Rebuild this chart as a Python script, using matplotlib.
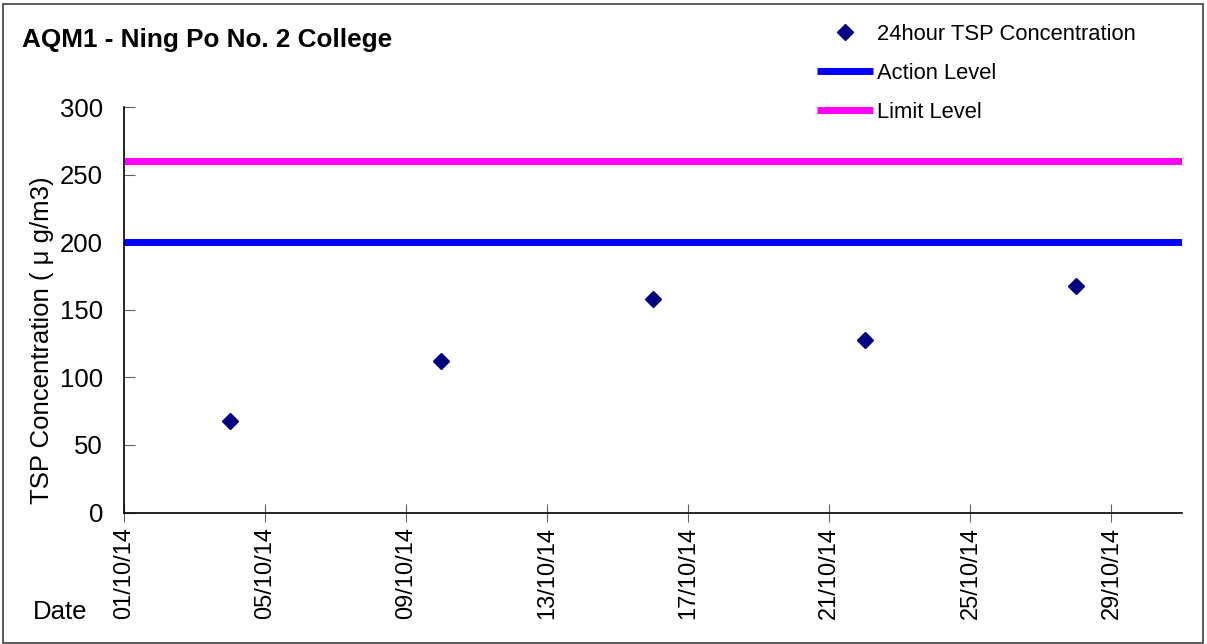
import matplotlib
matplotlib.use("Agg")
import matplotlib.pyplot as plt
import matplotlib.dates as mdates
from matplotlib.patches import Rectangle
import pandas as pd

plt.rcParams["font.family"] = ["Liberation Sans", "DejaVu Sans"]

# ------------------------------------------------------------
# Daten
# ------------------------------------------------------------
dates = pd.to_datetime(["2014-10-04", "2014-10-10", "2014-10-16",
                        "2014-10-22", "2014-10-28"])
tsp = [68, 112, 158, 128, 168]

x_start = pd.Timestamp("2014-10-01")
x_end = pd.Timestamp("2014-10-31")
tick_dates = pd.date_range("2014-10-01", "2014-10-29", freq="4D")

action_level = 200
limit_level = 260

# ------------------------------------------------------------
# Plot
# ------------------------------------------------------------
fig = plt.figure(figsize=(12.07, 6.44), dpi=100)
ax = fig.add_axes([124 / 1207, 1 - 512.5 / 644, (1182 - 124) / 1207, (512.5 - 107.3) / 644])

ax.plot(dates, tsp, linestyle="none", marker="D", markersize=8,
        color="#000080", label="24hour TSP Concentration", zorder=3)
ax.plot([x_start, x_end], [action_level, action_level], color="#0000ff",
        linewidth=5, solid_capstyle="butt", label="Action Level")
ax.plot([x_start, x_end], [limit_level, limit_level], color="#ff00ff",
        linewidth=5, solid_capstyle="butt", label="Limit Level")

ax.set_xlim(x_start, x_end)
ax.set_ylim(0, 300)
ax.set_yticks(range(0, 301, 50))
ax.set_xticks(tick_dates)
ax.xaxis.set_major_formatter(mdates.DateFormatter("%d/%m/%y"))
for lbl in ax.get_xticklabels():
    lbl.set_rotation(90)

ax.tick_params(axis="y", direction="in", length=8, color="#606060",
               labelsize=18.5, pad=15)
ax.tick_params(axis="x", direction="inout", length=13, color="#606060",
               labelsize=17, pad=4)
ax.spines["top"].set_visible(False)
ax.spines["right"].set_visible(False)
ax.spines["left"].set_linewidth(1.2)
ax.spines["bottom"].set_linewidth(1.2)

fig.text(22 / 1207, 1 - 40 / 644, "AQM1 - Ning Po No. 2 College",
         fontsize=18.8, fontweight="bold", va="center", ha="left")
fig.text(42 / 1207, 1 - 340 / 644, "TSP Concentration ( μ g/m3)",
         fontsize=18.5, rotation=90, va="center", ha="center")
fig.text(33 / 1207, 1 - 612 / 644, "Date", fontsize=18.5, va="center", ha="left")

ax.legend(loc="upper left", bbox_to_anchor=(817 / 1207, 1 - 24 / 644),
          bbox_transform=fig.transFigure, frameon=False, fontsize=15.8,
          handlelength=2.55, handletextpad=0.2, labelspacing=0.82,
          borderaxespad=0, borderpad=0)

fig.patches.append(Rectangle((3 / 1207, 1 / 644), 1200 / 1207, 639 / 644,
                             transform=fig.transFigure, fill=False,
                             edgecolor="#404040", linewidth=1.2))

fig.savefig("out.png", dpi=100)
